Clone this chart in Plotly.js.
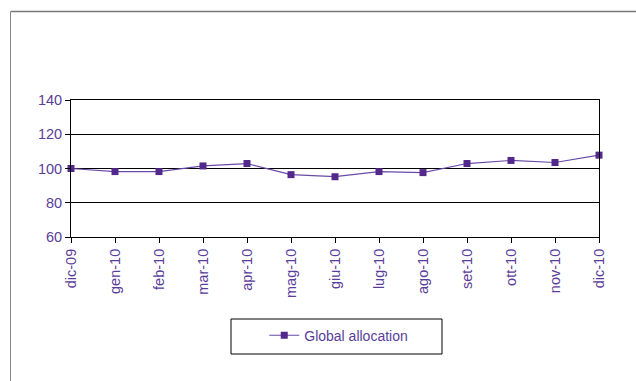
<!DOCTYPE html>
<html>
<head>
<meta charset="utf-8">
<script src="https://cdn.plot.ly/plotly-3.0.1.min.js"></script>
<style>
html,body{margin:0;padding:0;background:#fff;}
#chart{width:636px;height:381px;}
</style>
</head>
<body>
<div id="chart"></div>
<script>
const months = ["dic-09","gen-10","feb-10","mar-10","apr-10","mag-10","giu-10","lug-10","ago-10","set-10","ott-10","nov-10","dic-10"];
const globalAllocation = [100, 98.2, 98.2, 101.5, 102.9, 96.4, 95.2, 98.2, 97.6, 102.9, 104.7, 103.5, 107.8];
const yTicks = [60, 80, 100, 120, 140];
const seriesName = "Global allocation";

const textColor = "#5a3d98";
const trace = {
  x: months.map((m, i) => i),
  y: globalAllocation,
  type: "scatter",
  mode: "lines+markers",
  name: seriesName,
  line: {color: "#6a4aa8", width: 1.2},
  marker: {symbol: "square", size: 7, color: "#52288c"},
  cliponaxis: false
};

const layout = {
  width: 636, height: 381,
  margin: {l: 71, r: 37, t: 100, b: 144},
  paper_bgcolor: "#fff", plot_bgcolor: "#fff",
  font: {family: "Liberation Sans, Arial, sans-serif", size: 14, color: textColor},
  showlegend: true,
  xaxis: {
    range: [0, months.length - 1],
    tickmode: "array",
    tickvals: months.map((m, i) => i),
    ticktext: months,
    tickangle: -90,
    ticks: "outside", ticklen: 5, tickcolor: "#000",
    showline: true, linecolor: "#000", linewidth: 1, mirror: true,
    showgrid: false, zeroline: false,
    tickfont: {size: 14.5, color: textColor}
  },
  yaxis: {
    range: [60, 140],
    tickmode: "array",
    tickvals: yTicks,
    ticks: "outside", ticklen: 5, tickcolor: "#000",
    showline: true, linecolor: "#000", linewidth: 1, mirror: true,
    showgrid: true, gridcolor: "#000", gridwidth: 1,
    zeroline: false,
    tickfont: {size: 14.5, color: textColor}
  },
  legend: {
    x: 0.366, y: -0.72, xanchor: "left", yanchor: "middle",
    bgcolor: "rgba(0,0,0,0)", borderwidth: 0,
    font: {size: 14, color: textColor}
  },
  shapes: [
    {type: "rect", xref: "paper", yref: "paper",
     x0: (231 - 71) / 528, x1: (442 - 71) / 528,
     y0: (237 - 354) / 137, y1: (237 - 319) / 137,
     line: {color: "#000", width: 1}},
    {type: "line", xref: "paper", yref: "paper",
     x0: (10.5 - 71) / 528, x1: (636 - 71) / 528,
     y0: (237 - 11.5) / 137, y1: (237 - 11.5) / 137,
     line: {color: "#777", width: 1.5}},
    {type: "line", xref: "paper", yref: "paper",
     x0: (10.5 - 71) / 528, x1: (10.5 - 71) / 528,
     y0: (237 - 11.5) / 137, y1: (237 - 381) / 137,
     line: {color: "#888", width: 1}}
  ]
};

Plotly.newPlot("chart", [trace], layout, {displayModeBar: false, staticPlot: true});
</script>
</body>
</html>
